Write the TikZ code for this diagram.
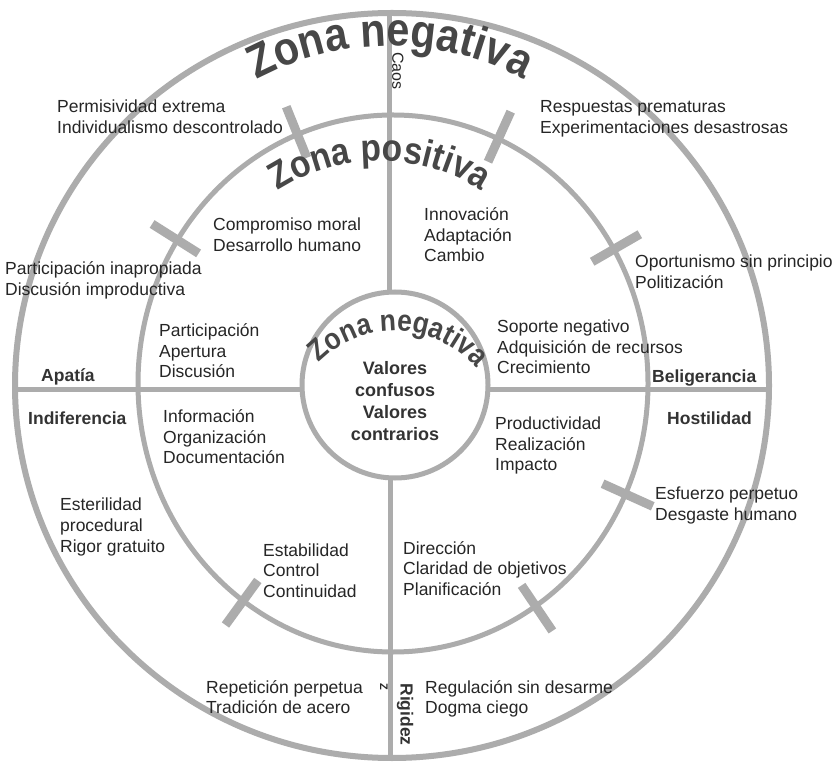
\documentclass[tikz,border=0pt]{standalone}
\usepackage{fontspec}
\setmainfont{Liberation Sans}
\newfontfamily\arcfont{Liberation Sans}[FakeStretch=0.88]
\usetikzlibrary{decorations.text}
\newcommand\lns[1]{\begin{tabular}[t]{@{}l@{}}#1\end{tabular}}
\newcommand\clns[1]{\begin{tabular}[t]{@{}c@{}}#1\end{tabular}}
\begin{document}
\begin{tikzpicture}[x=1pt,y=1pt,
  ring/.style={draw=gray!65, line width=5pt},
  spoke/.style={draw=gray!65, line width=5pt},
  tickbar/.style={draw=gray!65, line width=9pt},
  txt/.style={anchor=base west, inner sep=0pt, text=black!85, font=\fontsize{17.5}{20.5}\selectfont},
  lbl/.style={anchor=base west, inner sep=0pt, text=black!80, font=\fontsize{17.5}{20.5}\selectfont\bfseries}]
\fill[white] (0,0) rectangle (837,766);
\useasboundingbox (0,0) rectangle (837,766);
% spokes
\draw[spoke] (15,376) -- (303,376);
\draw[spoke] (488,376) -- (769,376);
\draw[spoke] (389,474) -- (389,753);
\draw[spoke] (390,8) -- (390,288);
% rings
\draw[ring, line width=6pt] (392,380.5) ellipse [x radius=377, y radius=372.5];
\draw[ring] (393,382.5) ellipse [x radius=255, y radius=268.5];
\draw[ring] (395,381) circle [radius=93];
% tick bars across middle ring
\foreach \a in {112,65.6,147.7,30,-24.3,-56,234}{
  \draw[tickbar] ([shift={(393,382.5)}]\a:230 and 243.5) -- ([shift={(393,382.5)}]\a:285 and 298.5);
}
% arched titles
\path[decorate, decoration={text along path, text align=center,
  text={|\arcfont\bfseries\fontsize{47}{47}\selectfont\color{black!72}|Zona negativa}}]
  ([shift={(390,436)}]130:284) arc (130:50:284);
\path[decorate, decoration={text along path, text align=center,
  text={|\arcfont\bfseries\fontsize{38}{38}\selectfont\color{black!72}|Zona positiva}}]
  ([shift={(380,418)}]145:187) arc (145:35:187);
\path[decorate, decoration={text along path, text align=center,
  text={|\arcfont\bfseries\fontsize{30}{30}\selectfont\color{black!72}|Zona negativa}}]
  ([shift={(395,328)}]160:107) arc (160:16:107);
% texts
\node[txt] (t1) at (57,653) {\lns{Permisividad extrema\\Individualismo descontrolado}};
\node[txt] (t2) at (540,653) {\lns{Respuestas prematuras\\Experimentaciones desastrosas}};
\node[txt] (t3) at (213,535) {\lns{Compromiso moral\\Desarrollo humano}};
\node[txt] (t4) at (424,545) {\lns{Innovación\\Adaptación\\Cambio}};
\node[txt] (t5) at (5,491) {\lns{Participación inapropiada\\Discusión improductiva}};
\node[txt] (t6) at (635,498) {\lns{Oportunismo sin principio\\Politización}};
\node[txt] (t7) at (159,429) {\lns{Participación\\Apertura\\Discusión}};
\node[txt] (t8) at (497,433) {\lns{Soporte negativo\\Adquisición de recursos\\Crecimiento}};
\node[lbl] (l1) at (41,384) {Apatía};
\node[lbl] (l2) at (28,341) {Indiferencia};
\node[lbl] (l3) at (652,383) {Beligerancia};
\node[lbl] (l4) at (667,341) {Hostilidad};
\node[txt] (t9) at (163,343) {\lns{Información\\Organización\\Documentación}};
\node[txt] (t10) at (495,336) {\lns{Productividad\\Realización\\Impacto}};
\node[txt] (t11) at (60,255) {\lns{Esterilidad\\procedural\\Rigor gratuito}};
\node[txt] (t12) at (655,266) {\lns{Esfuerzo perpetuo\\Desgaste humano}};
\node[txt] (t13) at (263,210) {\lns{Estabilidad\\Control\\Continuidad}};
\node[txt] (t14) at (403,212) {\lns{Dirección\\Claridad de objetivos\\Planificación}};
\node[txt] (t15) at (206,73) {\lns{Repetición perpetua\\Tradición de acero}};
\node[txt] (t16) at (425,73) {\lns{Regulación sin desarme\\Dogma ciego}};
\node[anchor=base, inner sep=0pt, text=black!80, font=\fontsize{18}{21.7}\selectfont\bfseries] (val) at (395,391) {\clns{Valores\\confusos\\Valores\\contrarios}};
\node[lbl, anchor=center, rotate=-90] (rig) at (405,51.5) {Rigidez};
\node[txt, anchor=center, rotate=-90, font=\fontsize{16}{16}\selectfont] (caos) at (398,695) {Caos};
\node[txt, anchor=center, rotate=-90, font=\fontsize{11}{11}\selectfont\bfseries] (zz) at (384,79) {Z};
\end{tikzpicture}
\end{document}
